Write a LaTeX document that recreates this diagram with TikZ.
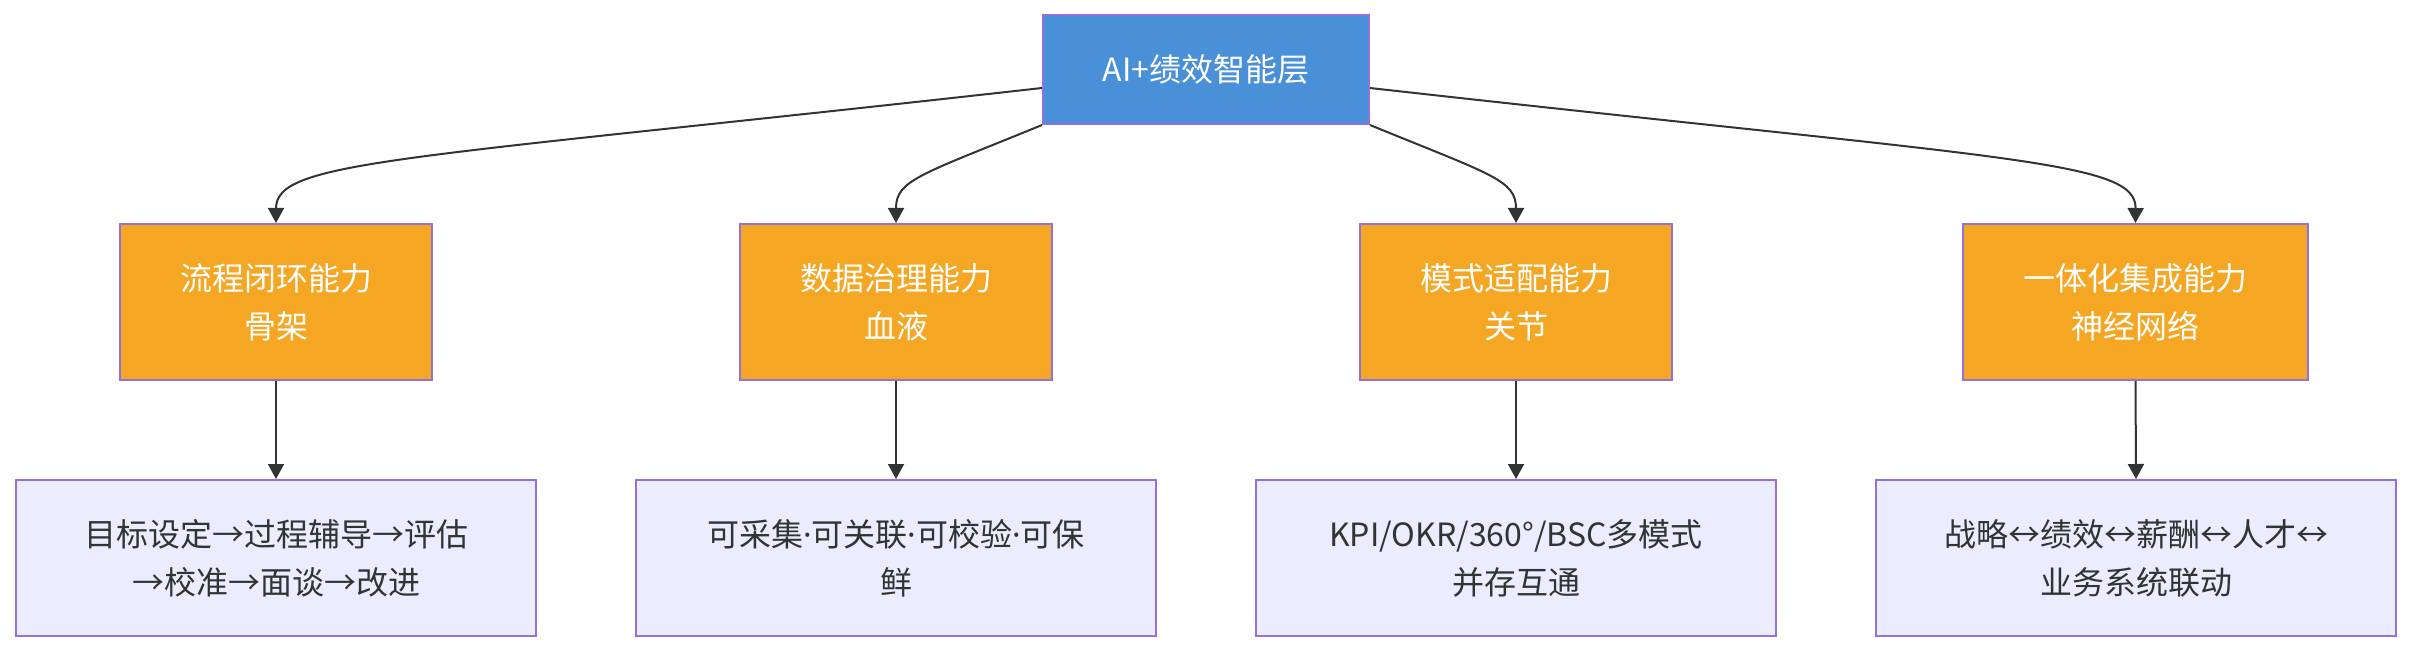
\documentclass[tikz,border=0pt]{standalone}
\usepackage{fontspec}
\setmainfont{Noto Sans CJK SC}
\newfontfamily\latinfont{Noto Sans}
\usetikzlibrary{arrows.meta}
\definecolor{topblue}{HTML}{4A90D9}
\definecolor{midorange}{HTML}{F5A623}
\definecolor{lowfill}{HTML}{ECECFF}
\definecolor{boxborder}{HTML}{9370DB}
\definecolor{ink}{HTML}{333333}
\newcommand{\mdot}{{\latinfont ·}}
\tikzset{
  base/.style={draw=boxborder, line width=2pt, rectangle, align=center, inner sep=0pt,
    font=\fontsize{32}{48}\selectfont},
  topbox/.style={base, fill=topblue, text=white, minimum width=326pt, minimum height=109pt},
  midbox/.style={base, fill=midorange, text=white, minimum width=312pt, minimum height=156pt},
  lowbox/.style={base, fill=lowfill, text=ink, minimum width=520pt, minimum height=156pt},
  edge/.style={draw=ink, line width=2pt, -{Triangle[length=15pt,width=16pt]}}
}
\begin{document}
\begin{tikzpicture}[x=1pt,y=-1pt]
\useasboundingbox (0,0) rectangle (2412,652);
\node[topbox] (top) at (1206,69.5) {AI+绩效智能层};
\node[midbox] (m1) at (276,302) {流程闭环能力\\骨架};
\node[midbox] (m2) at (896,302) {数据治理能力\\血液};
\node[midbox] (m3) at (1516,302) {模式适配能力\\关节};
\node[midbox, minimum width=345pt] (m4) at (2135.5,302) {一体化集成能力\\神经网络};
\node[lowbox] (b1) at (276,558) {目标设定→过程辅导→评估\\→校准→面谈→改进};
\node[lowbox] (b2) at (896,558) {可采集\mdot 可关联\mdot 可校验\mdot 可保\\鲜};
\node[lowbox] (b3) at (1516,558) {KPI/OKR/360°/BSC多模式\\并存互通};
\node[lowbox] (b4) at (2136,558) {战略↔绩效↔薪酬↔人才↔\\业务系统联动};
\draw[edge] ([yshift=-18.5pt]top.west) .. controls (400,160) and (276,160) .. (m1.north);
\draw[edge] (top.south west) .. controls (920,175) and (896,180) .. (m2.north);
\draw[edge] (top.south east) .. controls (1492,175) and (1516,180) .. (m3.north);
\draw[edge] ([yshift=-18.5pt]top.east) .. controls (2012,160) and (2136,160) .. (m4.north);
\draw[edge] (m1.south) -- (b1.north);
\draw[edge] (m2.south) -- (b2.north);
\draw[edge] (m3.south) -- (b3.north);
\draw[edge] (m4.south) -- (b4.north);
\end{tikzpicture}
\end{document}
